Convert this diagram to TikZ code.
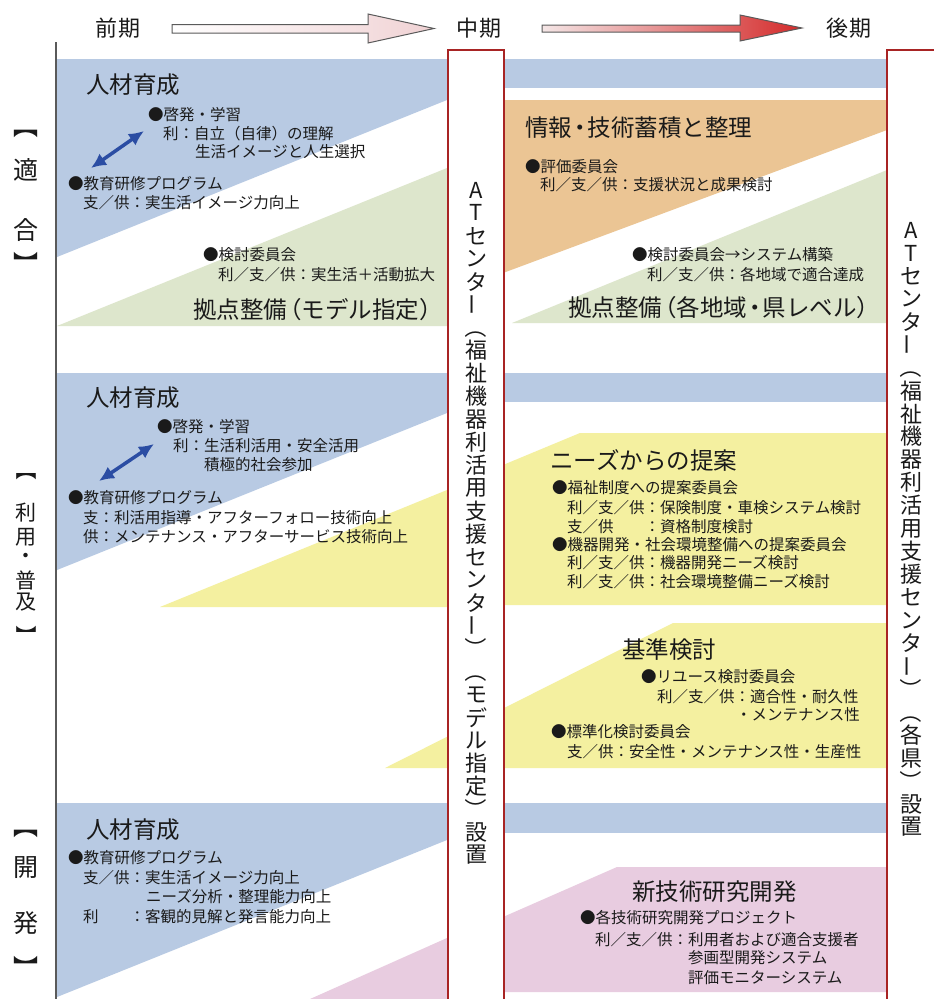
\documentclass[tikz,border=0pt]{standalone}
\usepackage{fontspec}
\setmainfont{Noto Sans CJK JP}
\usepackage{graphicx}
\usetikzlibrary{arrows.meta}
\definecolor{bandblue}{HTML}{B8CAE3}
\definecolor{bandgreen}{HTML}{DDE6CC}
\definecolor{bandorange}{HTML}{EBC594}
\definecolor{bandyellow}{HTML}{F4F0A0}
\definecolor{bandpink}{HTML}{E8CCE0}
\definecolor{boxred}{HTML}{A82424}
\definecolor{txt}{HTML}{1A1A1A}
\definecolor{arrowblue}{HTML}{2B4DA3}
\definecolor{arrgray}{HTML}{5A5A5A}
\definecolor{pinkpale}{HTML}{F0D2D4}
\definecolor{redstart}{HTML}{F4E6E6}
\definecolor{redend}{HTML}{D42A2A}
\newcommand{\vbarchar}{\rotatebox[origin=c]{90}{ー}}
\newcommand{\vlp}{\rotatebox[origin=c]{-90}{（}}
\newcommand{\vrp}{\rotatebox[origin=c]{-90}{）}}
\newcommand{\vlb}{\rotatebox[origin=c]{-90}{【}}
\newcommand{\vrb}{\rotatebox[origin=c]{-90}{】}}
\tikzset{
  ttl/.style={anchor=west, inner sep=0pt, font=\fontsize{23.5}{26}\selectfont, text=txt},
  sm/.style={anchor=west, inner sep=0pt, font=\fontsize{15.5}{18}\selectfont, text=txt},
  vch/.style={inner sep=0pt, font=\fontsize{22}{24}\selectfont, text=txt},
  lab/.style={inner sep=0pt, font=\fontsize{25}{27}\selectfont, text=txt},
  labs/.style={inner sep=0pt, font=\fontsize{21}{23}\selectfont, text=txt},
  hdr/.style={inner sep=0pt, font=\fontsize{22}{24}\selectfont, text=txt},
  atbox/.style={draw=boxred, line width=2pt, fill=white},
  dblarrow/.style={draw=arrowblue, line width=3.5pt, arrows={Latex[length=15pt,width=14pt]-Latex[length=15pt,width=14pt]}},
}
\begin{document}
\begin{tikzpicture}[x=1pt,y=-1pt]
\clip (0,0) rectangle (934,999);
\fill[white] (0,0) rectangle (934,999);

% ---------- header ----------
\node[hdr] (h1) at (118,28) {前\kern2pt 期};
\node[hdr] (h2) at (479,28) {中\kern2pt 期};
\node[hdr] (h3) at (849,28) {後\kern2pt 期};
\path[draw=arrgray, line width=1pt, left color=white, right color=pinkpale]
  (172,24.5) -- (368,24.5) -- (368,14) -- (434,28.5) -- (368,43) -- (368,33) -- (172,33) -- cycle;
\path[draw=arrgray, line width=1pt, left color=redstart, right color=redend]
  (542,25) -- (740,25) -- (740,15) -- (802,28) -- (740,41) -- (740,32) -- (542,32) -- cycle;

% ---------- bands ----------
\fill[bandblue] (57,59) -- (447,59) -- (447,100) -- (57,257) -- cycle;
\fill[bandgreen] (57,326) -- (447,168) -- (447,326) -- cycle;
\fill[bandblue] (57,373) -- (447,373) -- (447,413) -- (57,570) -- cycle;
\fill[bandyellow] (160,607) -- (447,490) -- (447,607) -- cycle;
\fill[bandblue] (57,803) -- (447,803) -- (447,840) -- (57,997) -- cycle;
\fill[bandpink] (310,999) -- (447,938) -- (447,999) -- cycle;

\fill[bandblue] (503,59) rectangle (887,88);
\fill[bandorange] (503,100) -- (887,100) -- (887,130) -- (503,273) -- cycle;
\fill[bandgreen] (512,323) -- (887,170) -- (887,323) -- cycle;
\fill[bandblue] (503,373) rectangle (887,402);
\fill[bandyellow] (503,465) -- (580,433) -- (887,433) -- (887,605) -- (503,605) -- cycle;
\fill[bandyellow] (385,768) -- (673,623) -- (887,623) -- (887,768) -- cycle;
\fill[bandblue] (503,803) rectangle (887,833);
\fill[bandpink] (503,917) -- (617,867) -- (887,867) -- (887,992) -- (503,992) -- cycle;

% ---------- left axis line ----------
\draw[arrgray, line width=1.2pt] (56,42) -- (56,999);

% ---------- AT center boxes ----------
\draw[atbox] (448,50) rectangle (504,1010);
\draw[atbox] (887,50) rectangle (945,1010);
\foreach \c [count=\i] in {A,T,セ,ン,タ,\vbarchar,\vlp,福,祉,機,器,利,活,用,支,援,セ,ン,タ,\vbarchar,\vrp,\vlp,モ,デ,ル,指,定,\vrp,設,置}
  \node[vch] (mc\i) at (476,{190+(\i-1)*22.93}) {\c};
\foreach \c [count=\i] in {A,T,セ,ン,タ,\vbarchar,\vlp,福,祉,機,器,利,活,用,支,援,セ,ン,タ,\vbarchar,\vrp,\vlp,各,県,\vrp,設,置}
  \node[vch] (rc\i) at (911,{230+(\i-1)*22.96}) {\c};

% ---------- phase labels ----------
\node[lab] (la1) at (26,126) {\vlb};
\node[lab] (la2) at (26,170) {適};
\node[lab] (la3) at (26,230) {合};
\node[lab] (la4) at (26,264) {\vrb};
\node[labs] (lb1) at (26,470) {\vlb};
\node[labs] (lb2) at (26,513) {利};
\node[labs] (lb3) at (26,537) {用};
\node[labs] (lb4) at (26,558.5) {・};
\node[labs] (lb5) at (26,580) {普};
\node[labs] (lb6) at (26,602) {及};
\node[labs] (lb7) at (26,636) {\vrb};
\node[lab] (lc1) at (26,826) {\vlb};
\node[lab] (lc2) at (26,868) {開};
\node[lab] (lc3) at (26,923) {発};
\node[lab] (lc4) at (26,968) {\vrb};

% ---------- section 1 left ----------
\node[ttl] (a1) at (86,85) {人材育成};
\node[sm] (a2) at (148,115) {●啓発・学習};
\node[sm] (a3) at (163,134) {利：自立（自律）の理解};
\node[sm] (a4) at (195,152) {生活イメージと人生選択};
\node[sm] (a5) at (68,184) {●教育研修プログラム};
\node[sm] (a6) at (83,203) {支／供：実生活イメージ力向上};
\node[sm] (a7) at (203,255) {●検討委員会};
\node[sm] (a8) at (218,275) {利／支／供：実生活＋活動拡大};
\node[ttl] (a9) at (193,310) {拠点整備\kern-9pt（モデル指定）};
\coordinate (ar1s) at (91,168);
\coordinate (ar1e) at (144,131);
\draw[dblarrow] (ar1s) -- (ar1e);

% ---------- section 1 right ----------
\node[ttl] (b1) at (525,128) {情報\kern-4pt・\kern-4pt 技術蓄積と整理};
\node[sm] (b2) at (525,167) {●評価委員会};
\node[sm] (b3) at (540,185) {利／支／供：支援状況と成果検討};
\node[sm] (b4) at (632,255) {●検討委員会→システム構築};
\node[sm] (b5) at (647,275) {利／支／供：各地域で適合達成};
\node[ttl] (b6) at (568,308) {拠点整備\kern-9pt（各地域\kern-4pt・\kern-4pt 県レベル）};

% ---------- section 2 left ----------
\node[ttl] (c1) at (86,398) {人材育成};
\node[sm] (c2) at (157,427) {●啓発・学習};
\node[sm] (c3) at (173,446) {利：生活利活用・安全活用};
\node[sm] (c4) at (204,465) {積極的社会参加};
\coordinate (ar2s) at (99,481);
\coordinate (ar2e) at (154,444);
\draw[dblarrow] (ar2s) -- (ar2e);
\node[sm] (c5) at (68,498) {●教育研修プログラム};
\node[sm] (c6) at (83,518) {支：利活用指導・アフターフォロー技術向上};
\node[sm] (c7) at (83,537) {供：メンテナンス・アフターサービス技術向上};

% ---------- section 2 right ----------
\node[ttl] (d1) at (550,460) {ニーズからの提案};
\node[sm] (d2) at (552,488) {●福祉制度への提案委員会};
\node[sm] (d3) at (567,508) {利／支／供：保険制度・車検システム検討};
\node[sm] (d4) at (567,527) {支／供　　：資格制度検討};
\node[sm] (d5) at (552,545) {●機器開発・社会環境整備への提案委員会};
\node[sm] (d6) at (567,563) {利／支／供：機器開発ニーズ検討};
\node[sm] (d7) at (567,582) {利／支／供：社会環境整備ニーズ検討};
\node[ttl] (d8) at (622,650) {基準検討};
\node[sm] (d9) at (641,677) {●リユース検討委員会};
\node[sm] (d10) at (657,697) {利／支／供：適合性・耐久性};
\node[sm, anchor=east] (d11) at (860,715) {・メンテナンス性};
\node[sm] (d12) at (551,732) {●標準化検討委員会};
\node[sm] (d13) at (567,752) {支／供：安全性・メンテナンス性・生産性};

% ---------- section 3 left ----------
\node[ttl] (e1) at (86,830) {人材育成};
\node[sm] (e2) at (68,858) {●教育研修プログラム};
\node[sm] (e3) at (83,878) {支／供：実生活イメージ力向上};
\node[sm] (e4) at (146,897) {ニーズ分析・整理能力向上};
\node[sm] (e5) at (83,917) {利　　：客観的見解と発言能力向上};

% ---------- section 3 right ----------
\node[ttl] (f1) at (632,892) {新技術研究開発};
\node[sm] (f2) at (580,918) {●各技術研究開発プロジェクト};
\node[sm] (f3) at (595,940) {利／支／供：利用者および適合支援者};
\node[sm] (f4) at (688,958) {参画型開発システム};
\node[sm] (f5) at (688,978) {評価モニターシステム};
\end{tikzpicture}
\end{document}
